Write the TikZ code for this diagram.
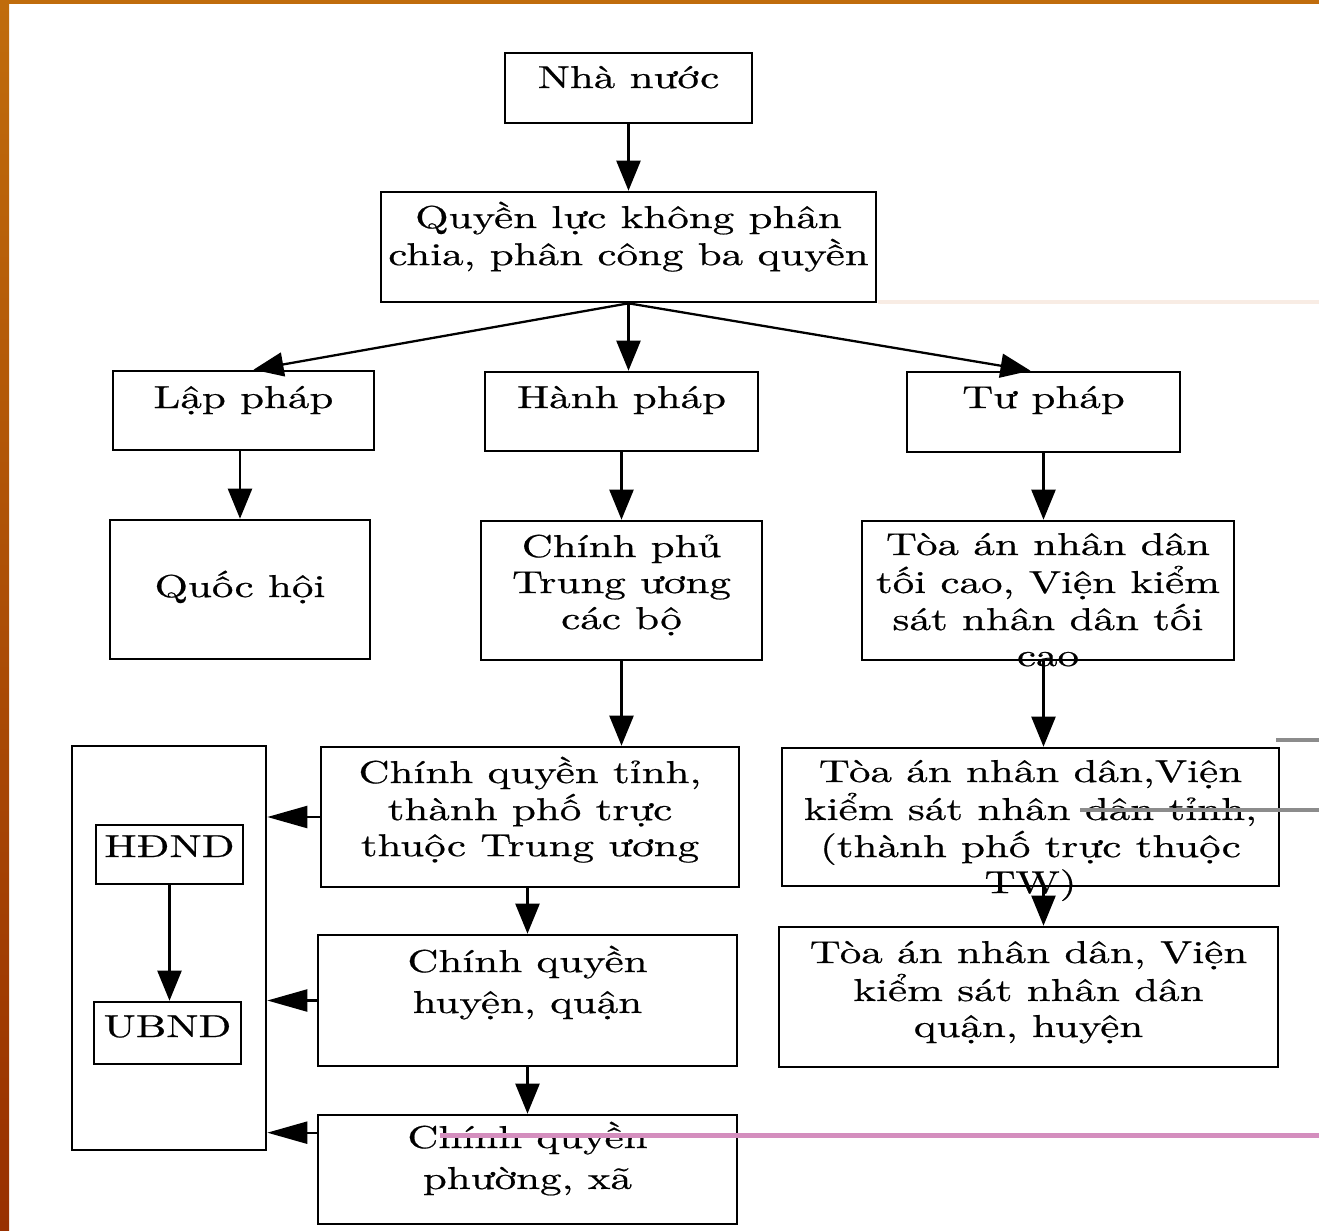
\documentclass[tikz,border=0pt]{standalone}
\usepackage{fontspec}
\setmainfont{lmroman10-regular.otf}[FakeStretch=1.36, FakeBold=0.6]
\usetikzlibrary{arrows.meta,calc}

\definecolor{slideOrange}{RGB}{192,108,12}
\definecolor{slideRust}{RGB}{152,48,0}
\definecolor{scanPink}{RGB}{212,142,190}
\definecolor{scanGrey}{RGB}{140,140,140}
\definecolor{scanPale}{RGB}{248,236,228}

\tikzset{
	box/.style={rectangle, draw=black, line width=1.5pt, inner sep=0pt},
	txt/.style={anchor=base, inner sep=0pt, font=\fontsize{18}{20.5}\selectfont},
	txtwide/.style={txt, font=\fontsize{18}{23.3}\selectfont},
	arr/.style={line width=1.3pt, -{Triangle[length=0.6cm, width=0.48cm]}},
	sidearr/.style={line width=1.3pt, -{Triangle[length=0.8cm, width=0.44cm]}}
}
\newcommand{\lines}[1]{\begin{tabular}[t]{@{}c@{}}#1\end{tabular}}

\begin{document}
\begin{tikzpicture}[x=0.02cm, y=-0.02cm]
	\useasboundingbox (0,0) rectangle (1319,1231);

	% slide frame
	\shade[top color=slideOrange, bottom color=slideRust] (0,0) rectangle (9,1231);
	\fill[slideOrange] (0,0) rectangle (1319,4);

	% top level
	\node[box, minimum width=4.94cm, minimum height=1.4cm](nha) at (628.5,88){};
	\node[txt](nhaText) at (628.5,88){Nhà nước};

	\node[box, minimum width=9.9cm, minimum height=2.2cm](quyen) at (628.5,247){};
	\node[txt](quyenText) at (628.5,228){\lines{Quyền lực không phân\\chia, phân công ba quyền}};

	% three powers
	\node[box, minimum width=5.22cm, minimum height=1.58cm](lap) at (243.5,410.5){};
	\node[txt](lapText) at (243.5,408){Lập pháp};

	\node[box, minimum width=5.46cm, minimum height=1.58cm](hanh) at (621.5,411.5){};
	\node[txt](hanhText) at (621.5,408){Hành pháp};

	\node[box, minimum width=5.46cm, minimum height=1.6cm](tu) at (1043.5,412){};
	\node[txt](tuText) at (1043.5,408){Tư pháp};

	% central bodies
	\node[box, minimum width=5.2cm, minimum height=2.78cm](qh) at (240,589.5){};
	\node[txt](qhText) at (240,597){Quốc hội};

	\node[box, minimum width=5.62cm, minimum height=2.78cm](cp) at (621.5,590.5){};
	\node[txt](cpText) at (621.5,557){\lines{Chính phủ\\Trung ương\\các bộ}};

	\node[box, minimum width=7.44cm, minimum height=2.78cm](tatc) at (1048,590.5){};
	\node[txt](tatcText) at (1048,555){\lines{Tòa án nhân dân\\tối cao, Viện kiểm\\sát nhân dân tối\\cao}};

	% local councils
	\node[box, minimum width=3.88cm, minimum height=8.08cm](council) at (169,948){};
	\node[box, minimum width=2.94cm, minimum height=1.18cm](hdnd) at (169.5,854.5){};
	\node[txt](hdndText) at (169.5,857){HĐND};
	\node[box, minimum width=2.94cm, minimum height=1.24cm](ubnd) at (167.5,1033){};
	\node[txt](ubndText) at (167.5,1037){UBND};

	% local government
	\node[box, minimum width=8.36cm, minimum height=2.8cm](tinh) at (530,817){};
	\node[txt](tinhText) at (530,783){\lines{Chính quyền tỉnh,\\thành phố trực\\thuộc Trung ương}};

	\node[box, minimum width=8.38cm, minimum height=2.62cm](huyen) at (527.5,1000.5){};
	\node[txtwide](huyenText) at (527.5,972){\lines{Chính quyền\\huyện, quận}};

	\node[box, minimum width=8.38cm, minimum height=2.18cm](phuong) at (527.5,1169.5){};
	\node[txtwide](phuongText) at (527.5,1148){\lines{Chính quyền\\phường, xã}};

	% local courts
	\node[box, minimum width=9.94cm, minimum height=2.76cm](tatinh) at (1030.5,817){};
	\node[txt](tatinhText) at (1030.5,782){\lines{Tòa án nhân dân,Viện\\kiểm sát nhân dân tỉnh,\\(thành phố trực thuộc\\TW)}};

	\node[box, minimum width=9.98cm, minimum height=2.8cm](taquan) at (1028.5,997){};
	\node[txt](taquanText) at (1028.5,963){\lines{Tòa án nhân dân, Viện\\kiểm sát nhân dân\\quận, huyện}};

	% arrows
	\draw[arr] (nha.south) -- (quyen.north);
	\draw[arr] (quyen.south) -- ([xshift=0.2cm]lap.north);
	\draw[arr] (quyen.south) -- (quyen.south |- hanh.north);
	\draw[arr] (quyen.south) -- ([xshift=-0.26cm]tu.north);
	\draw[arr] (qh.north |- lap.south) -- (qh.north);
	\draw[arr] (hanh.south) -- (hanh.south |- cp.north);
	\draw[arr] (tu.south) -- (tu.south |- tatc.north);
	\draw[arr] (cp.south) -- (cp.south |- tinh.north);
	\draw[arr] (tu.south |- tatc.south) -- (tu.south |- tatinh.north);
	\draw[arr] (tu.south |- tatinh.south) -- (tu.south |- taquan.north);
	\draw[arr] (huyen.north |- tinh.south) -- (huyen.north);
	\draw[arr] (huyen.south) -- (phuong.north);
	\draw[arr] (hdnd.south) -- (hdnd.south |- ubnd.north);

	\coordinate (phuongIn) at ($(phuong.north west)!0.17!(phuong.south west)$);
	\draw[sidearr] (tinh.west) -- (tinh.west -| council.east);
	\draw[sidearr] (huyen.west) -- (huyen.west -| council.east);
	\draw[sidearr] (phuongIn) -- (phuongIn -| council.east);

	% marks on the scan
	\fill[scanPale] (878,300) rectangle (1319,304);
	\fill[scanGrey] (1276,738) rectangle (1319,742);
	\fill[scanGrey] (1080,808) rectangle (1319,812);
	\fill[scanPink] (440,1133) rectangle (1319,1138);
\end{tikzpicture}
\end{document}
